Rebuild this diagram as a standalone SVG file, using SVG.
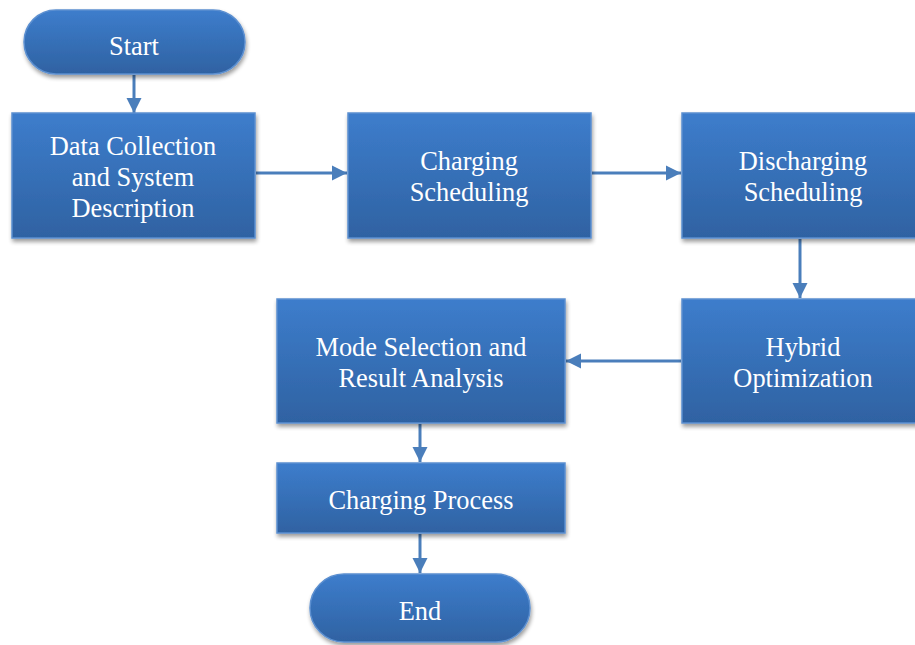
<svg xmlns="http://www.w3.org/2000/svg" width="915" height="645" viewBox="0 0 915 645">
<defs>
<linearGradient id="g" x1="0" y1="0" x2="0" y2="1">
<stop offset="0" stop-color="#3d7dcc"/>
<stop offset="1" stop-color="#2f62a2"/>
</linearGradient>
<filter id="sh" x="-10%" y="-10%" width="125%" height="130%">
<feGaussianBlur in="SourceAlpha" stdDeviation="2"/>
<feOffset dx="1" dy="3" result="b"/>
<feComponentTransfer><feFuncA type="linear" slope="0.4"/></feComponentTransfer>
<feMerge><feMergeNode/><feMergeNode in="SourceGraphic"/></feMerge>
</filter>
<marker id="ah" viewBox="0 0 10 10" refX="10" refY="5" markerWidth="5" markerHeight="5.5" orient="auto" markerUnits="strokeWidth">
<path d="M0,0 L10,5 L0,10 z" fill="#4a7ebb"/>
</marker>
<style>
.n{fill:url(#g);stroke:#5b8fd0;stroke-width:1.5;filter:url(#sh)}
.t{font-family:"Liberation Serif","Times New Roman",serif;font-size:26.4px;fill:#ffffff;text-anchor:middle}
.c{stroke:#4a7ebb;stroke-width:3;fill:none;marker-end:url(#ah)}
</style>
</defs>
<rect width="915" height="645" fill="#ffffff"/>
<g id="connectors">
<line class="c" x1="134" y1="75" x2="134" y2="113"/>
<line class="c" x1="256" y1="173" x2="347" y2="173"/>
<line class="c" x1="592" y1="173" x2="681" y2="173"/>
<line class="c" x1="800" y1="239" x2="800" y2="298"/>
<line class="c" x1="681" y1="361" x2="566" y2="361"/>
<line class="c" x1="420" y1="424" x2="420" y2="462"/>
<line class="c" x1="420" y1="534" x2="420" y2="573"/>
</g>
<g id="start">
<rect class="n" x="24" y="10" width="221" height="64" rx="32" ry="32"/>
<text class="t" x="134" y="55">Start</text>
</g>
<g id="data-collection">
<rect class="n" x="12" y="113" width="243" height="125"/>
<text class="t" x="133" y="155">Data Collection</text>
<text class="t" x="133" y="186">and System</text>
<text class="t" x="133" y="217">Description</text>
</g>
<g id="charging-scheduling">
<rect class="n" x="348" y="113" width="243" height="125"/>
<text class="t" x="469" y="170">Charging</text>
<text class="t" x="469" y="201">Scheduling</text>
</g>
<g id="discharging-scheduling">
<rect class="n" x="682" y="113" width="243" height="125"/>
<text class="t" x="803" y="170">Discharging</text>
<text class="t" x="803" y="201">Scheduling</text>
</g>
<g id="hybrid-optimization">
<rect class="n" x="682" y="299" width="243" height="124"/>
<text class="t" x="803" y="356">Hybrid</text>
<text class="t" x="803" y="387">Optimization</text>
</g>
<g id="mode-selection">
<rect class="n" x="277" y="299" width="288" height="124"/>
<text class="t" x="421" y="356">Mode Selection and</text>
<text class="t" x="421" y="387">Result Analysis</text>
</g>
<g id="charging-process">
<rect class="n" x="277" y="463" width="288" height="70"/>
<text class="t" x="421" y="509">Charging Process</text>
</g>
<g id="end">
<rect class="n" x="310" y="574" width="220" height="68" rx="34" ry="34"/>
<text class="t" x="420" y="620">End</text>
</g>
</svg>
